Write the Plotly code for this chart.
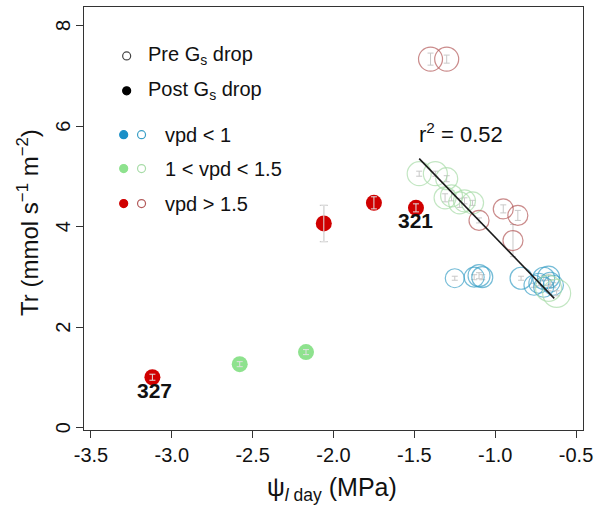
import plotly.graph_objects as go

# Post-Gs-drop means (filled circles)
post_x = [-3.12, -2.58, -2.17, -2.06, -1.75, -1.49]
post_y = [1.01, 1.27, 1.51, 4.07, 4.48, 4.38]
post_err = [0.06, 0.05, 0.05, 0.36, 0.12, 0.08]
post_class = ["high", "mid", "mid", "high", "high", "high"]

# Pre-Gs-drop means (open circles), grouped by vpd class
pre_low_x = [-1.25, -1.13, -1.10, -1.08, -0.84, -0.76, -0.73, -0.70, -0.67, -0.66, -0.70, -0.64]
pre_low_y = [2.98, 3.00, 3.03, 3.00, 2.98, 2.84, 2.88, 2.98, 3.00, 2.90, 2.80, 2.84]
pre_low_err = [0.04, 0.05, 0.06, 0.05, 0.04, 0.04, 0.05, 0.05, 0.06, 0.05, 0.04, 0.05]
pre_low_size = [19, 20, 22, 21, 22, 20, 20, 22, 22, 20, 20, 20]

pre_mid_x = [-1.47, -1.37, -1.30, -1.31, -1.27, -1.22, -1.19, -1.14, -0.67, -0.62]
pre_mid_y = [5.06, 5.06, 4.96, 4.58, 4.62, 4.48, 4.52, 4.48, 2.78, 2.68]
pre_mid_err = [0.05, 0.05, 0.06, 0.08, 0.10, 0.09, 0.06, 0.05, 0.05, 0.05]
pre_mid_size = [24, 24, 22, 22, 22, 22, 22, 22, 26, 28]

pre_high_x = [-1.40, -1.30, -1.10, -0.95, -0.86, -0.89]
pre_high_y = [7.34, 7.34, 4.13, 4.36, 4.23, 3.73]
pre_high_err = [0.12, 0.08, 0.05, 0.08, 0.10, 0.32]
pre_high_size = [24, 24, 20, 20, 20, 20]

# Linear fit through the pre-drop points
fit_x = [-1.47, -0.635]
fit_slope = -3.33
fit_intercept = 0.465
fit_r2 = 0.52

# Point labels
label_ids = ["327", "321"]
label_x = [-3.11, -1.49]
label_y = [0.75, 4.13]

x_ticks = [-3.5, -3.0, -2.5, -2.0, -1.5, -1.0, -0.5]
x_tick_labels = ["-3.5", "-3.0", "-2.5", "-2.0", "-1.5", "-1.0", "-0.5"]
y_ticks = [0, 2, 4, 6, 8]
y_tick_labels = ["0", "2", "4", "6", "8"]

FONT = "Liberation Sans, Arial, sans-serif"
fill_col = {"low": "#1b8fc7", "mid": "#8ee28e", "high": "#d00000"}
open_col = {"low": "#3a9fc6", "mid": "#a8dca8", "high": "#b35a5a"}
err_col = "#c8c8c8"

fig = go.Figure()

# open circles
for xs, ys, es, ss, key in [
    (pre_low_x, pre_low_y, pre_low_err, pre_low_size, "low"),
    (pre_mid_x, pre_mid_y, pre_mid_err, pre_mid_size, "mid"),
    (pre_high_x, pre_high_y, pre_high_err, pre_high_size, "high"),
]:
    fig.add_trace(go.Scatter(
        x=xs, y=ys, mode="markers",
        error_y=dict(type="data", array=es, color=err_col, thickness=1, width=3),
        marker=dict(symbol="circle-open", size=ss, color=open_col[key],
                    line=dict(width=1.2, color=open_col[key])),
        showlegend=False, hoverinfo="skip",
    ))

# fitted line
fit_y = [fit_slope * v + fit_intercept for v in fit_x]
fig.add_trace(go.Scatter(x=fit_x, y=fit_y, mode="lines",
                         line=dict(color="#1a1a1a", width=1.6),
                         showlegend=False, hoverinfo="skip"))

# filled circles
fig.add_trace(go.Scatter(
    x=post_x, y=post_y, mode="markers",
    error_y=dict(type="data", array=post_err, color=err_col, thickness=1.2, width=4),
    marker=dict(size=16, color=[fill_col[c] for c in post_class], line=dict(width=0)),
    showlegend=False, hoverinfo="skip",
))
# error bars again, on top of the filled markers
fig.add_trace(go.Scatter(
    x=post_x, y=post_y, mode="markers",
    error_y=dict(type="data", array=post_err, color="#e0e0e0", thickness=1, width=3),
    marker=dict(size=1, color="rgba(0,0,0,0)"),
    showlegend=False, hoverinfo="skip",
))

annotations = []
for t, lx, ly in zip(label_ids, label_x, label_y):
    annotations.append(dict(x=lx, y=ly, xref="x", yref="y", text=f"<b>{t}</b>",
                            xanchor="center", yanchor="middle",
                            showarrow=False, font=dict(family=FONT, size=21, color="#111")))
annotations.append(dict(x=-1.21, y=5.86, xref="x", yref="y",
                        xanchor="center", yanchor="middle",
                        text=f"r<sup>2</sup> = {fit_r2:.2f}", showarrow=False,
                        font=dict(family=FONT, size=22, color="#111")))

# legend built from shapes + text (paper coordinates)
L, B, W, H = 84, 430, 503, 424


def px(xp):
    return (xp - L) / W


def py(yp):
    return (B - yp) / H


shapes = []


def dot(cx, cy, color, filled, r=4):
    shapes.append(dict(type="circle", xref="paper", yref="paper",
                       xsizemode="pixel", ysizemode="pixel",
                       xanchor=px(cx), yanchor=py(cy),
                       x0=-r, x1=r, y0=-r, y1=r,
                       fillcolor=color if filled else "white",
                       line=dict(color=color, width=1.2)))


legend_rows = [
    ("Pre G<sub>s</sub> drop", 55, [("#444", False, 127)], 146),
    ("Post G<sub>s</sub> drop", 90, [("#000", True, 127)], 146),
    ("vpd &lt; 1", 134, [(fill_col["low"], True, 124), (open_col["low"], False, 142)], 164),
    ("1 &lt; vpd &lt; 1.5", 168, [(fill_col["mid"], True, 124), (open_col["mid"], False, 142)], 164),
    ("vpd &gt; 1.5", 203, [(fill_col["high"], True, 124), (open_col["high"], False, 142)], 164),
]
for text, yy, marks, tx in legend_rows:
    for col, filled, cx in marks:
        dot(cx, yy, col, filled)
    annotations.append(dict(x=px(tx), y=py(yy), xref="paper", yref="paper",
                            xanchor="left", yanchor="middle", text=text, showarrow=False,
                            font=dict(family=FONT, size=20, color="#111")))

# y tick labels, set parallel to the axis
for v, lab in zip(y_ticks, y_tick_labels):
    annotations.append(dict(x=px(63), y=v, xref="paper", yref="y", text=lab,
                            textangle=-90, xanchor="center", yanchor="middle",
                            showarrow=False, font=dict(family=FONT, size=20, color="#111")))

# axis titles
annotations.append(dict(x=px(28), y=py(222), xref="paper", yref="paper",
                        xanchor="center", yanchor="middle",
                        text="Tr (mmol s<sup>\u22121</sup> m<sup>\u22122</sup>)",
                        textangle=-90, showarrow=False,
                        font=dict(family=FONT, size=24, color="#111")))
annotations.append(dict(x=px(334), y=py(489), xref="paper", yref="paper",
                        xanchor="center", yanchor="middle",
                        text="\u03c8<sub><i>l</i> day</sub> (MPa)", showarrow=False,
                        font=dict(family=FONT, size=25, color="#111")))

axis_common = dict(showline=True, linecolor="#333", linewidth=1, mirror=True,
                   ticks="outside", ticklen=7, tickcolor="#333", tickwidth=1,
                   showgrid=False, zeroline=False,
                   tickfont=dict(family=FONT, size=20, color="#111"))

fig.update_layout(
    width=599, height=507,
    margin=dict(l=84, r=12, t=6, b=77),
    paper_bgcolor="white", plot_bgcolor="white",
    shapes=shapes, annotations=annotations,
    xaxis=dict(range=[-3.543, -0.457], tickvals=x_ticks, ticktext=x_tick_labels,
               ticklabelstandoff=0, **axis_common),
    yaxis=dict(range=[-0.04, 8.377], tickvals=y_ticks, showticklabels=False,
               **axis_common),
)

fig.write_html("out.html")
